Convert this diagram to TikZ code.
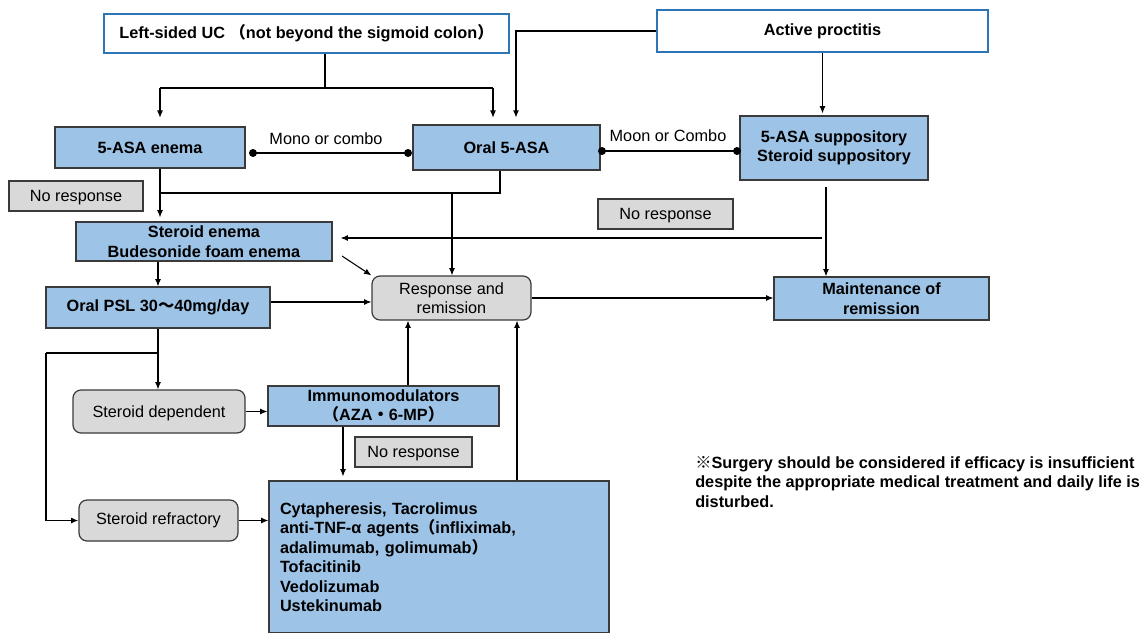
\documentclass[tikz,border=0pt]{standalone}
\usepackage{fontspec}
\setmainfont{Liberation Sans}
\newfontfamily\cjk{Noto Sans CJK JP}
\usetikzlibrary{arrows.meta}
\definecolor{boxblue}{HTML}{9DC3E6}
\definecolor{boxgray}{HTML}{D9D9D9}
\definecolor{edgeblue}{HTML}{2E75B6}
\definecolor{edgedark}{HTML}{3A3A3A}
\newcommand\txtsize{\fontsize{12.2}{14.6}\selectfont}
\newcommand\lowered[1]{\raisebox{-1.5pt}[\height][\depth]{#1}}
\tikzset{
  boxbase/.style={draw=edgedark, line width=0.9pt, inner sep=0pt, align=center,
    font=\txtsize},
  sz/.style 2 args={minimum width=#1*0.75pt, minimum height=#2*0.75pt},
  head/.style={boxbase, draw=edgeblue, line width=1.1pt, fill=white,
    font=\txtsize\bfseries},
  therapy/.style={boxbase, fill=boxblue, font=\txtsize\bfseries},
  status/.style={boxbase, fill=boxgray, rounded corners=6pt},
  remark/.style={boxbase, fill=boxgray},
  lbl/.style={inner sep=0pt, font=\txtsize},
  plain/.style={line width=0.8pt},
  heavy/.style={line width=1.4pt},
  link/.style={line width=0.8pt, -{Latex[length=5.5pt,width=4.5pt]}},
}
\begin{document}
\begin{tikzpicture}[x=0.75pt,y=-0.75pt]
\useasboundingbox (0,0) rectangle (1148,632);

% ---- boxes ----
\node[head, sz={405}{39}] (uc) at (306.5,33.5)
  {Left-sided UC {\cjk （}not beyond the sigmoid colon{\cjk ）}};
\node[head, sz={331}{42}] (proct) at (822.5,31) {Active proctitis};
\node[therapy, sz={190}{41}] (enema) at (150,147.5) {5-ASA enema};
\node[therapy, sz={187}{45}] (oral) at (506.5,147.5) {Oral 5-ASA};
\node[therapy, sz={188}{64}] (supp) at (834,148) {5-ASA suppository\\Steroid suppository};
\node[remark, sz={134}{30}] (nr1) at (76,196) {\lowered{No response}};
\node[therapy, sz={256}{39}] (ster) at (204,241.5) {Steroid enema\\Budesonide foam enema};
\node[remark, sz={135}{30}] (nr2) at (665.5,214) {\lowered{No response}};
\node[status, sz={159}{44}] (resp) at (451.5,298) {Response and\\remission};
\node[therapy, sz={215}{43}] (maint) at (881.5,298.5) {Maintenance of\\remission};
\node[therapy, sz={224}{41}] (psl) at (158,307.5) {Oral PSL 30{\cjk ～}40mg/day};
\node[status, sz={172}{43}] (dep) at (159,411.5) {\lowered{Steroid dependent}};
\node[therapy, sz={231}{40}] (immuno) at (383.5,406)
  {Immunomodulators\\{\cjk （}AZA{\cjk ・}6-MP{\cjk ）}};
\node[remark, sz={117}{30}] (nr3) at (413.5,452) {\lowered{No response}};
\node[status, sz={159}{41}] (refr) at (158.5,520.5) {Steroid refractory};
\node[therapy, sz={340}{152}, text width=238.5pt, align=left] (cyto) at (439,557)
  {Cytapheresis, Tacrolimus\\
   anti-TNF-α agents{\cjk （}infliximab,\\
   adalimumab, golimumab{\cjk ）}\\
   Tofacitinib\\
   Vedolizumab\\
   Ustekinumab};

% ---- free labels ----
\node[lbl] (mono) at (326,139) {Mono or combo};
\node[lbl] (moon) at (668,136) {Moon or Combo};
\node[lbl, anchor=north west, align=left, font=\txtsize\bfseries]
  (note) at (695,456)
  {{\cjk ※}Surgery should be considered if efficacy is insufficient\\
   despite the appropriate medical treatment and daily life is\\
   disturbed.};

% ---- routing points ----
\coordinate (ucj) at (325,88);
\coordinate (ucl) at (160,88);
\coordinate (ucr) at (493,88);
\coordinate (pc) at (516,0);
\coordinate (m1) at (253,153);
\coordinate (m2) at (408,153);
\coordinate (c1) at (602,151);
\coordinate (c2) at (737,151);
\coordinate (ja) at (160,193);
\coordinate (jb) at (500,193);
\coordinate (jc) at (452,193);
\coordinate (sa) at (826,187);
\coordinate (sb) at (822,238);
\coordinate (dg) at (342,256);
\coordinate (pr) at (0,302);
\coordinate (pb) at (158,353);
\coordinate (pl) at (46,353);
\coordinate (ic) at (408,0);
\coordinate (nc) at (343,0);
\coordinate (rc) at (517,0);

% ---- connectors ----
\draw[heavy] (ucj |- uc.south) -- (ucj);
\draw[heavy] (ucl) -- (ucr);
\draw[link, shorten >=6.5pt] (ucl) -- (ucl |- enema.north);
\draw[link, shorten >=5pt] (ucr) -- (ucr |- oral.north);
\draw[link, line width=1.3pt, shorten >=5pt] (proct.west) -| (pc |- oral.north);
\draw[link, shorten >=1.5pt] (proct.south) -- (proct.south |- supp.north);

\draw[plain] (m1) -- (m2);
\fill (m1) circle[radius=3pt];
\fill (m2) circle[radius=3pt];
\draw[plain] (c1) -- (c2);
\fill (c1) circle[radius=3pt];
\fill (c2) circle[radius=3pt];

\draw[plain] (enema.south -| ja) -- (ja);
\draw[heavy] (oral.south -| jb) -- (jb) -- (ja);
\draw[link, shorten >=3pt] (ja) -- (ja |- ster.north);
\draw[link] (jc) -- (jc |- resp.north);

\draw[link] (sa) -- (sa |- maint.north);
\draw[link, shorten >=6pt] (sb) -- (sb -| ster.east);
\draw[link] (dg) -- (resp.north west);
\draw[link] (resp.east) -- (resp.east -| maint.west);
\draw[link] (psl.east |- pr) -- (pr -| resp.west);
\draw[link] (ster.south -| psl.north) -- (psl.north);
\draw[link] (psl.south) -- (psl.south |- dep.north);
\draw[heavy] (pb) -- (pl);
\draw[link, line width=1.3pt] (pl) |- (refr.west);
\draw[link] (dep.east) -- (dep.east -| immuno.west);
\draw[link] (immuno.north -| ic) -- (ic |- resp.south);
\draw[link, shorten >=3pt] (immuno.south -| nc) -- (nc |- cyto.north);
\draw[link] (cyto.north -| rc) -- (rc |- resp.south);
\draw[link] (refr.east) -- (refr.east -| cyto.west);
\end{tikzpicture}
\end{document}
